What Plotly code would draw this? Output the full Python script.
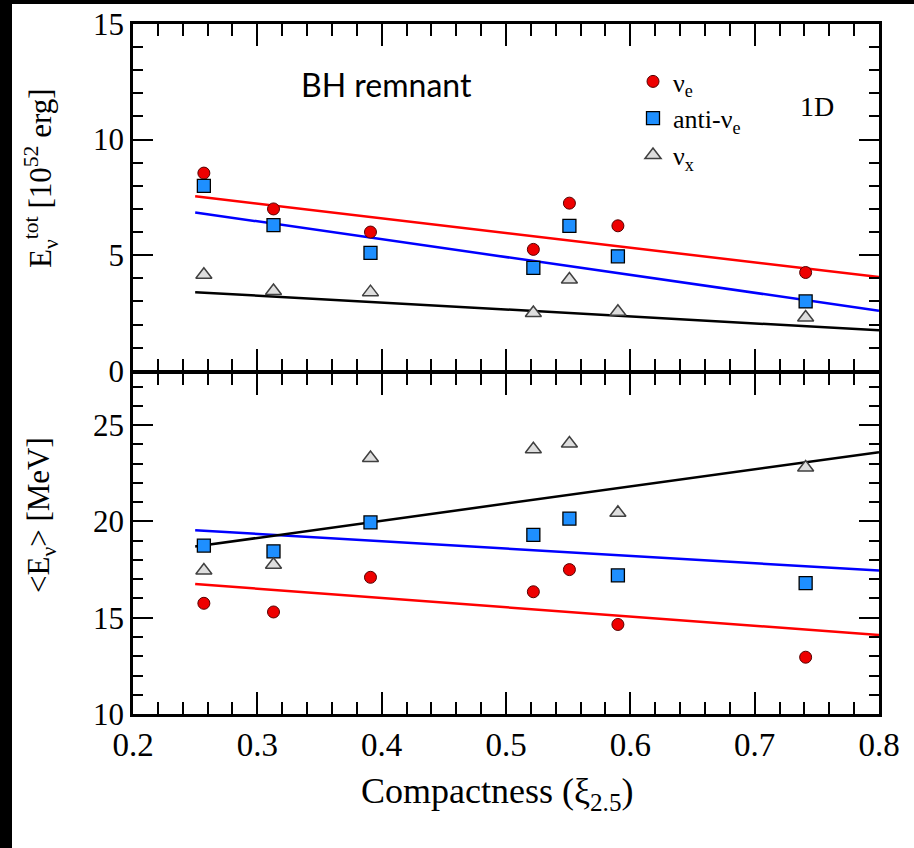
import plotly.graph_objects as go

# ---------------- data ----------------
compactness = [0.257, 0.313, 0.391, 0.522, 0.551, 0.590, 0.741]

etot_nue = [8.55, 7.0, 6.0, 5.25, 7.25, 6.27, 4.25]
etot_anue = [8.0, 6.3, 5.1, 4.45, 6.27, 4.95, 3.0]
etot_nux = [4.15, 3.45, 3.4, 2.5, 3.95, 2.55, 2.3]

emean_nue = [15.75, 15.3, 17.1, 16.35, 17.5, 14.65, 12.95]
emean_anue = [18.75, 18.45, 19.95, 19.3, 20.15, 17.2, 16.8]
emean_nux = [17.45, 17.75, 23.3, 23.75, 24.05, 20.45, 22.8]

fit_x = [0.25, 0.8]
fit_etot_nue = [7.55, 4.05]
fit_etot_anue = [6.85, 2.6]
fit_etot_nux = [3.4, 1.75]
fit_emean_nue = [16.75, 14.1]
fit_emean_anue = [19.55, 17.45]
fit_emean_nux = [18.7, 23.6]

x_ticks = [0.2, 0.3, 0.4, 0.5, 0.6, 0.7, 0.8]
etot_ticks = [0, 5, 10, 15]
emean_ticks = [10, 15, 20, 25]

# ---------------- figure ----------------
W, H = 914, 848
def px(v):
    return v / W
def py(v):
    return 1 - v / H

SERIF = "Liberation Serif"
LW = 2.5
fig = go.Figure()

red_m = dict(symbol="circle", size=12, color="#ee0000", line=dict(color="#550000", width=1))
blue_m = dict(symbol="square", size=13, color="#1e8fff", line=dict(color="#000000", width=1.3))
gray_m = dict(symbol="triangle-up", size=14, color="#dedede", line=dict(color="#404040", width=1.5))

# fit lines
for xa, ya, yv, col in [("x", "y", fit_etot_nue, "#ff0000"), ("x", "y", fit_etot_anue, "#0000ff"),
                         ("x", "y", fit_etot_nux, "#000000"),
                         ("x2", "y2", fit_emean_nue, "#ff0000"), ("x2", "y2", fit_emean_anue, "#0000ff"),
                         ("x2", "y2", fit_emean_nux, "#000000")]:
    fig.add_trace(go.Scatter(x=fit_x, y=yv, mode="lines", xaxis=xa, yaxis=ya,
                             line=dict(color=col, width=2.5), showlegend=False, hoverinfo="skip"))

fig.add_trace(go.Scatter(x=compactness, y=etot_nue, mode="markers", marker=red_m,
                         name="ν<sub>e</sub>", xaxis="x", yaxis="y"))
fig.add_trace(go.Scatter(x=compactness, y=etot_anue, mode="markers", marker=blue_m,
                         name="anti-ν<sub>e</sub>", xaxis="x", yaxis="y"))
fig.add_trace(go.Scatter(x=compactness, y=etot_nux, mode="markers", marker=gray_m,
                         name="ν<sub>x</sub>", xaxis="x", yaxis="y"))
fig.add_trace(go.Scatter(x=compactness, y=emean_nue, mode="markers", marker=red_m,
                         showlegend=False, xaxis="x2", yaxis="y2"))
fig.add_trace(go.Scatter(x=compactness, y=emean_anue, mode="markers", marker=blue_m,
                         showlegend=False, xaxis="x2", yaxis="y2"))
fig.add_trace(go.Scatter(x=compactness, y=emean_nux, mode="markers", marker=gray_m,
                         showlegend=False, xaxis="x2", yaxis="y2"))

common_ax = dict(showline=True, linewidth=LW, linecolor="black", mirror="allticks",
                 ticks="inside", tickwidth=2, tickcolor="black", showgrid=False,
                 zeroline=False, automargin=False)
xdom = [px(133), px(879)]
mid = 372

fig.update_layout(
    width=W, height=H, margin=dict(l=0, r=0, t=0, b=0), autosize=False,
    paper_bgcolor="white", plot_bgcolor="white", template=None,
    xaxis=dict(domain=xdom, range=[0.2, 0.8], anchor="y", tickvals=x_ticks, showticklabels=False,
               ticklen=22, minor=dict(ticks="inside", dtick=0.02, ticklen=12, tickwidth=2, tickcolor="black"),
               **common_ax),
    yaxis=dict(domain=[py(mid - LW / 2), py(24)], range=[0, 15], anchor="x", tickvals=etot_ticks,
               ticklen=20, tickfont=dict(family=SERIF, size=31, color="black"),
               minor=dict(ticks="inside", dtick=1, ticklen=10, tickwidth=2, tickcolor="black"),
               **common_ax),
    xaxis2=dict(domain=xdom, range=[0.2, 0.8], anchor="y2", tickvals=x_ticks,
                tickformat=".1f", ticklen=22, tickfont=dict(family=SERIF, size=33, color="black"),
                minor=dict(ticks="inside", dtick=0.02, ticklen=12, tickwidth=2, tickcolor="black"),
                **common_ax),
    yaxis2=dict(domain=[py(714), py(mid + LW / 2)], range=[10, 27.7], anchor="x2", tickvals=emean_ticks,
                ticklen=20, tickfont=dict(family=SERIF, size=31, color="black"),
                minor=dict(ticks="inside", dtick=1, ticklen=10, tickwidth=2, tickcolor="black"),
                **common_ax),
    legend=dict(x=px(633), y=py(58), xanchor="left", yanchor="top", bgcolor="rgba(0,0,0,0)",
                font=dict(family=SERIF, size=26, color="black"), tracegroupgap=0, itemwidth=30),
    showlegend=True,
)

def note(x, y, text, size, family=SERIF, angle=0):
    fig.add_annotation(x=px(x), y=py(y), xref="paper", yref="paper", text=text,
                       xanchor="center", yanchor="middle", textangle=angle,
                       showarrow=False, font=dict(family=family, size=size, color="black"))

note(386, 84, "BH remnant", 32, family="Lato")
note(817, 106, "1D", 28)
note(41, 178, "E<sub>ν</sub><sup>tot</sup> [10<sup>52</sup> erg]", 31, angle=-90)
note(41, 515, "&lt;E<sub>ν</sub>&gt; [MeV]", 31, angle=-90)
note(497, 793, "Compactness (ξ<sub>2.5</sub>)", 36)

# black screenshot border strips
fig.add_shape(type="rect", xref="paper", yref="paper", x0=0, x1=px(12), y0=0, y1=1,
              fillcolor="black", line=dict(width=0), layer="above")
fig.add_shape(type="rect", xref="paper", yref="paper", x0=0, x1=1, y0=py(4), y1=1,
              fillcolor="black", line=dict(width=0), layer="above")

fig.write_html("out.html", config={"responsive": False, "displayModeBar": False})
